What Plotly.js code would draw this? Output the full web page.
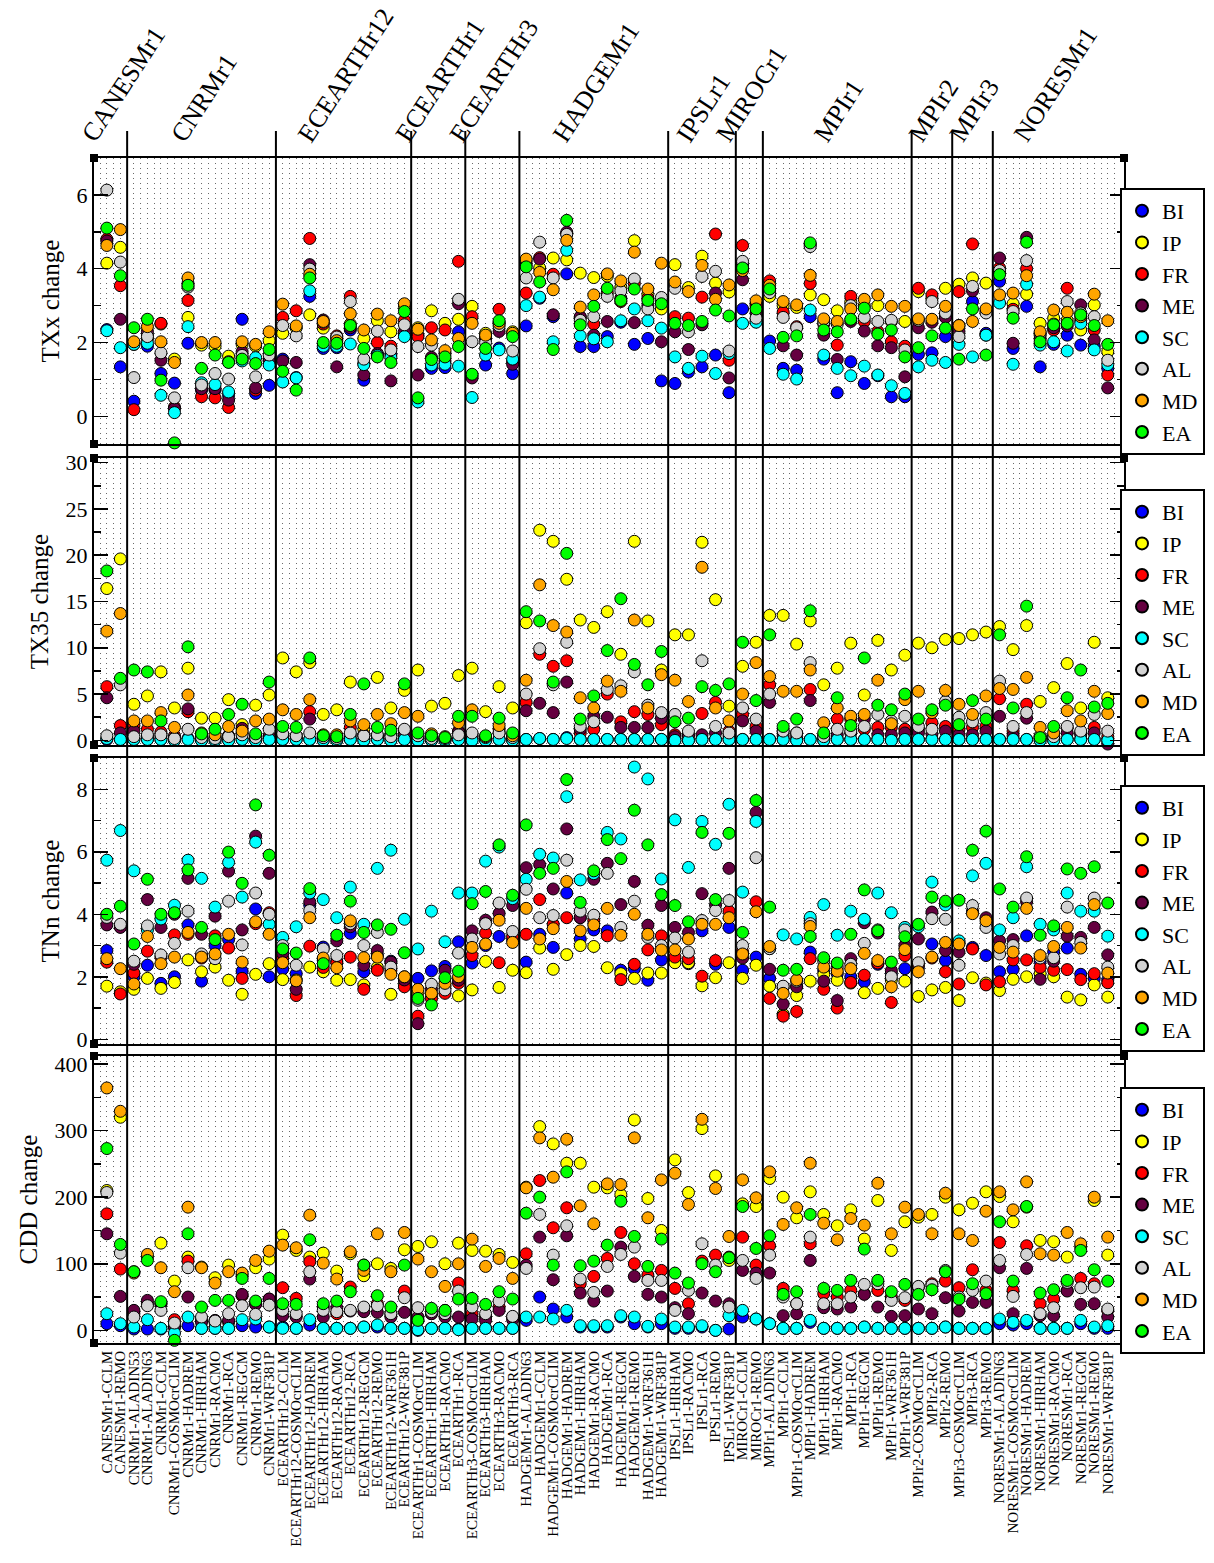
<!DOCTYPE html>
<html>
<head>
<meta charset="utf-8">
<script src="https://cdn.plot.ly/plotly-3.0.1.min.js"></script>
<style>
html,body{margin:0;padding:0;background:#fff;}
#chart{width:1214px;height:1563px;}
</style>
</head>
<body>
<div id="chart"></div>
<script>
const categories = [
"CANESMr1-CCLM","CANESMr1-REMO",
"CNRMr1-ALADIN53","CNRMr1-ALADIN63","CNRMr1-CCLM","CNRMr1-COSMOcrCLIM","CNRMr1-HADREM","CNRMr1-HIRHAM","CNRMr1-RACMO","CNRMr1-RCA","CNRMr1-REGCM","CNRMr1-REMO","CNRMr1-WRF381P",
"ECEARTHr12-CCLM","ECEARTHr12-COSMOcrCLIM","ECEARTHr12-HADREM","ECEARTHr12-HIRHAM","ECEARTHr12-RACMO","ECEARTHr12-RCA","ECEARTHr12-REGCM","ECEARTHr12-REMO","ECEARTHr12-WRF361H","ECEARTHr12-WRF381P",
"ECEARTHr1-COSMOcrCLIM","ECEARTHr1-HIRHAM","ECEARTHr1-RACMO","ECEARTHr1-RCA",
"ECEARTHr3-COSMOcrCLIM","ECEARTHr3-HIRHAM","ECEARTHr3-RACMO","ECEARTHr3-RCA",
"HADGEMr1-ALADIN63","HADGEMr1-CCLM","HADGEMr1-COSMOcrCLIM","HADGEMr1-HADREM","HADGEMr1-HIRHAM","HADGEMr1-RACMO","HADGEMr1-RCA","HADGEMr1-REGCM","HADGEMr1-REMO","HADGEMr1-WRF361H","HADGEMr1-WRF381P",
"IPSLr1-HIRHAM","IPSLr1-RACMO","IPSLr1-RCA","IPSLr1-REMO","IPSLr1-WRF381P",
"MIROCr1-CCLM","MIROCr1-REMO",
"MPIr1-ALADIN63","MPIr1-CCLM","MPIr1-COSMOcrCLIM","MPIr1-HADREM","MPIr1-HIRHAM","MPIr1-RACMO","MPIr1-RCA","MPIr1-REGCM","MPIr1-REMO","MPIr1-WRF361H","MPIr1-WRF381P",
"MPIr2-COSMOcrCLIM","MPIr2-RCA","MPIr2-REMO",
"MPIr3-COSMOcrCLIM","MPIr3-RCA","MPIr3-REMO",
"NORESMr1-ALADIN63","NORESMr1-COSMOcrCLIM","NORESMr1-HADREM","NORESMr1-HIRHAM","NORESMr1-RACMO","NORESMr1-RCA","NORESMr1-REGCM","NORESMr1-REMO","NORESMr1-WRF381P"
];
const regions = ["BI","IP","FR","ME","SC","AL","MD","EA"];
const regionColors = ["#0000ff","#ffff00","#ff0000","#650040","#00ffff","#d3d3d3","#ffa500","#00ff00"];

// rows = categories, columns = regions (BI, IP, FR, ME, SC, AL, MD, EA)
const txx = [
[2.35,4.15,4.80,4.75,2.32,6.13,4.63,5.10],
[1.34,4.58,3.54,2.63,1.86,4.18,5.06,3.81],
[0.41,1.95,0.18,2.00,1.95,1.05,2.02,2.40],
[1.90,2.10,2.20,2.30,1.98,2.16,2.43,2.63],
[1.16,2.50,2.52,1.52,0.57,1.72,2.02,0.98],
[0.90,1.55,0.25,0.21,0.10,0.50,1.46,-0.72],
[1.98,2.68,3.14,3.60,2.43,3.50,3.75,3.55],
[0.71,1.93,0.53,0.75,0.91,0.85,2.00,1.30],
[0.71,1.90,0.50,0.75,0.86,1.16,2.00,1.66],
[0.57,1.63,0.24,0.44,0.66,1.01,1.48,1.46],
[2.63,1.95,1.60,1.75,1.50,1.65,2.02,1.55],
[0.62,1.90,0.71,0.77,1.59,1.07,1.95,1.43],
[0.84,2.05,1.52,1.50,1.39,1.66,2.29,1.81],
[1.55,2.25,2.68,1.50,0.93,2.46,3.04,1.22],
[1.05,2.40,2.86,1.46,1.04,2.18,2.45,0.71],
[3.25,2.75,4.82,4.11,3.40,3.99,3.85,3.75],
[1.84,2.39,2.50,2.61,1.90,2.55,2.57,2.00],
[1.86,2.10,2.18,1.34,1.90,2.15,2.05,1.98],
[2.34,2.50,3.25,2.40,1.96,3.11,2.78,2.46],
[0.98,2.11,1.43,1.12,1.40,1.55,2.34,1.84],
[1.68,2.59,2.00,1.70,1.65,2.31,2.77,1.61],
[1.68,2.29,1.90,0.96,1.60,1.80,2.59,1.46],
[2.20,2.95,2.60,2.30,2.16,2.48,3.05,2.84],
[2.20,2.40,2.16,1.12,0.39,1.89,2.36,0.50],
[1.30,2.86,2.40,1.60,1.39,1.93,2.07,1.54],
[1.32,2.52,2.34,1.50,1.41,1.70,1.78,1.61],
[2.29,2.63,4.20,3.05,1.36,3.17,2.11,1.89],
[1.10,2.98,2.70,1.04,0.51,2.02,2.52,1.14],
[1.39,2.25,2.10,2.15,1.66,2.00,2.20,1.84],
[1.85,2.55,2.90,2.30,1.80,2.45,2.52,2.59],
[1.16,2.29,1.48,1.41,1.55,1.77,2.25,2.16],
[2.45,4.20,3.34,4.10,3.00,3.75,4.26,4.05],
[3.20,4.02,4.30,4.26,3.23,4.72,3.90,3.64],
[2.70,4.29,3.85,2.75,2.02,3.75,3.43,1.81],
[3.86,4.24,4.95,4.99,4.50,4.93,4.77,5.31],
[1.89,3.88,2.68,2.70,2.18,2.60,2.96,2.48],
[1.89,3.76,2.50,2.20,2.10,2.70,3.29,2.98],
[2.16,3.80,3.35,2.57,2.02,3.25,3.86,3.47],
[2.55,3.50,3.11,3.20,2.59,3.40,3.67,3.14],
[1.95,4.76,3.60,2.54,2.91,3.72,4.45,3.45],
[2.11,3.30,3.20,3.00,2.59,2.91,3.45,3.14],
[0.96,2.91,3.10,2.02,2.39,3.22,4.15,3.05],
[0.89,4.11,2.70,2.29,1.61,3.47,3.64,2.52],
[1.20,3.49,2.66,1.81,1.30,2.29,3.38,2.46],
[1.34,4.34,3.23,2.48,1.63,3.79,4.09,2.57],
[1.66,3.61,4.94,3.34,1.16,3.93,3.17,2.88],
[0.64,3.37,1.52,1.04,1.70,1.77,3.56,2.72],
[2.91,4.10,4.63,3.70,2.52,4.20,3.95,4.02],
[2.57,3.05,3.00,2.80,2.55,2.66,3.13,2.91],
[2.04,3.25,3.67,3.40,1.84,3.35,3.55,3.45],
[1.30,3.00,2.82,1.91,1.14,2.68,3.11,2.14],
[1.25,2.95,2.43,1.66,1.01,2.40,3.02,2.18],
[2.70,3.29,3.60,4.65,2.88,4.60,3.82,4.70],
[1.55,3.16,2.50,2.20,1.66,2.55,2.64,2.34],
[0.64,2.86,1.93,1.54,1.30,2.50,2.57,2.29],
[1.48,3.10,3.25,2.57,1.10,3.00,2.91,2.63],
[0.89,3.00,2.57,2.31,1.36,2.68,3.17,2.93],
[1.10,3.00,2.30,1.91,1.12,2.57,3.29,2.23],
[0.53,2.57,2.02,1.86,0.83,2.60,2.98,2.34],
[0.53,2.57,1.90,1.07,0.62,1.80,2.98,1.61],
[1.68,3.38,3.47,2.40,1.34,2.60,2.64,1.86],
[1.72,3.20,3.29,2.55,1.52,3.11,2.63,2.18],
[2.16,3.47,2.70,2.68,1.46,2.80,2.98,2.39],
[2.46,3.58,3.38,2.30,1.95,2.16,2.46,1.55],
[3.11,3.75,4.67,3.40,1.61,3.52,2.57,2.91],
[2.25,3.61,2.85,2.20,2.20,2.80,2.91,1.66],
[3.66,3.90,4.02,4.29,3.07,3.95,3.29,3.84],
[1.84,3.05,2.90,1.98,1.41,2.84,3.34,2.66],
[2.98,3.31,4.00,4.85,3.58,4.22,3.81,4.72],
[1.34,2.52,2.20,2.10,1.93,2.25,2.29,2.02],
[1.95,2.66,2.34,2.40,2.02,2.50,2.88,2.48],
[2.20,2.60,3.47,2.45,1.77,3.11,2.82,2.52],
[1.93,2.34,2.60,3.02,2.52,2.80,2.70,2.75],
[1.90,3.02,2.34,2.07,1.80,2.70,3.31,2.46],
[1.30,1.75,1.12,0.77,1.40,1.52,2.59,1.95]
];

const tx35 = [
[0.1,16.4,5.8,4.6,0.2,0.5,11.8,18.3],
[0.1,19.6,1.6,0.8,0.1,6.0,13.7,6.7],
[0.1,3.9,1.6,1.0,0.1,0.4,2.1,7.6],
[0.1,4.8,1.2,0.5,0.1,0.6,2.1,7.4],
[0.1,7.4,0.9,0.5,0.1,0.6,3.0,2.1],
[0.0,3.5,0.5,0.3,0.0,0.2,1.4,-0.6],
[0.2,7.8,3.1,3.4,0.1,1.2,4.9,10.1],
[0.0,2.4,0.4,0.3,0.0,0.3,0.8,0.7],
[0.0,2.4,0.3,0.3,0.0,0.2,0.6,1.2],
[0.0,4.4,0.5,0.5,0.0,0.4,1.5,2.8],
[0.1,1.7,0.8,1.3,0.1,0.6,1.0,3.9],
[0.0,3.8,0.4,0.3,0.0,0.3,2.1,0.7],
[0.1,4.9,0.5,0.4,0.1,1.2,2.3,6.3],
[0.1,8.9,0.6,0.5,0.1,0.7,3.3,1.5],
[0.1,7.4,0.5,0.4,0.1,0.5,2.8,1.4],
[0.1,8.4,3.1,2.3,0.1,0.8,4.4,8.9],
[0.0,2.8,0.4,0.3,0.0,0.3,0.6,0.5],
[0.0,3.3,0.3,0.2,0.0,0.2,0.6,0.4],
[0.1,6.3,1.4,0.5,0.1,0.8,2.1,2.8],
[0.0,1.2,0.6,0.5,0.0,0.5,1.7,6.1],
[0.1,6.8,0.5,0.4,0.1,0.6,2.8,1.4],
[0.0,3.5,0.6,0.5,0.0,0.4,1.8,1.1],
[0.1,5.4,1.0,0.6,0.1,1.2,3.0,6.1],
[0.0,7.6,0.4,0.3,0.0,0.5,2.6,0.8],
[0.0,3.7,0.2,0.2,0.0,0.2,0.7,0.5],
[0.0,4.0,0.2,0.2,0.0,0.2,0.4,0.3],
[0.1,7.0,1.0,0.9,0.1,0.6,1.9,2.6],
[0.0,7.8,0.5,0.4,0.0,0.8,3.3,2.6],
[0.0,3.1,0.3,0.2,0.0,0.3,0.4,0.5],
[0.1,5.8,1.2,0.8,0.1,0.8,1.6,2.4],
[0.0,3.5,0.3,0.3,0.0,0.3,0.5,0.8],
[0.1,12.7,4.1,3.2,0.1,5.0,6.5,13.9],
[0.2,22.7,9.3,4.0,0.2,9.9,16.8,12.9],
[0.1,21.5,8.0,3.0,0.1,6.0,12.4,6.3],
[0.3,17.4,8.6,6.3,0.2,10.6,11.7,20.2],
[0.1,13.0,0.8,1.2,0.1,1.5,4.6,2.3],
[0.1,12.2,1.2,2.6,0.1,2.0,3.5,4.8],
[0.1,13.9,5.0,2.5,0.1,5.5,6.4,9.7],
[0.1,9.3,2.0,1.4,0.1,5.9,5.3,15.3],
[0.1,21.5,3.1,1.4,0.1,7.4,13.0,8.2],
[0.1,12.9,2.8,1.4,0.1,3.8,3.5,6.0],
[0.1,7.6,1.7,2.4,0.1,3.0,7.1,9.6],
[0.0,11.4,0.6,0.4,0.0,2.8,6.5,2.0],
[0.0,11.4,0.6,0.5,0.0,1.0,4.2,2.4],
[0.1,21.4,2.9,0.6,0.1,8.6,18.7,5.8],
[0.1,15.2,4.1,0.8,0.1,1.5,3.5,5.4],
[0.1,3.7,1.0,0.5,0.1,0.8,2.1,6.1],
[0.1,8.0,2.8,2.1,0.1,3.5,5.0,10.6],
[0.1,10.6,1.5,1.0,0.1,2.3,8.4,4.3],
[0.1,13.5,6.0,4.1,0.1,5.0,6.9,11.4],
[0.1,13.5,1.0,0.5,0.1,1.0,5.3,1.5],
[0.0,10.4,0.8,0.4,0.0,0.8,5.3,2.3],
[0.1,12.9,5.5,4.3,0.1,8.4,7.6,14.0],
[0.0,6.0,0.5,0.3,0.0,0.4,1.9,0.8],
[0.1,7.8,2.3,0.6,0.1,1.2,3.5,4.6],
[0.1,10.5,2.3,0.8,0.1,1.0,2.6,1.6],
[0.1,4.9,1.2,2.3,0.1,1.5,2.8,8.9],
[0.1,10.8,1.4,0.6,0.1,2.8,6.5,3.8],
[0.0,7.6,1.4,0.6,0.0,2.1,1.8,3.3],
[0.1,9.2,1.2,0.8,0.1,2.6,4.4,5.0],
[0.1,10.5,1.2,0.8,0.1,1.5,5.3,2.3],
[0.1,10.0,1.9,0.7,0.1,1.2,3.0,3.3],
[0.1,10.9,1.5,1.0,0.1,4.2,5.4,3.8],
[0.1,11.0,1.2,0.6,0.1,2.5,3.9,1.7],
[0.1,11.4,1.4,0.6,0.1,2.0,2.8,4.3],
[0.1,11.7,1.5,1.0,0.1,3.0,4.8,2.3],
[0.1,12.3,4.5,2.6,0.1,6.4,5.6,11.4],
[0.1,9.8,1.0,0.5,0.1,1.5,5.5,3.5],
[0.1,12.4,3.9,2.4,0.1,3.0,6.8,14.5],
[0.0,4.2,0.4,0.3,0.0,0.5,1.4,0.3],
[0.0,5.7,0.4,0.3,0.0,0.4,0.8,1.5],
[0.1,8.3,1.4,0.8,0.1,1.5,3.2,4.6],
[0.1,3.5,0.8,0.6,0.1,1.0,2.1,7.6],
[0.1,10.6,1.4,0.8,0.1,2.8,5.3,3.6],
[0.0,4.6,0.4,-0.4,0.0,1.0,2.9,4.0]
];

const tnn = [
[2.84,1.70,2.47,3.66,5.73,3.90,2.58,4.00],
[3.60,1.52,1.45,3.58,6.68,3.68,2.26,4.26],
[2.00,1.60,2.12,2.40,5.39,2.50,1.77,3.05],
[2.37,1.95,2.82,4.47,3.50,3.63,3.29,5.12],
[1.79,1.63,2.63,3.58,3.85,2.70,2.42,4.00],
[2.00,1.82,3.34,4.00,4.29,3.07,2.63,4.05],
[3.66,2.54,3.36,5.15,5.73,4.10,3.42,5.42],
[1.86,2.16,2.60,3.36,5.15,2.73,2.63,3.58],
[3.00,2.31,3.31,3.94,4.23,2.58,2.73,3.19],
[3.19,1.89,2.92,5.38,5.66,4.42,3.36,5.99],
[2.18,1.44,1.95,3.50,4.55,3.02,2.47,4.99],
[4.17,2.08,3.70,6.50,6.31,4.68,3.76,7.50],
[2.00,2.42,4.05,5.31,3.68,4.00,3.36,5.89],
[2.25,1.91,2.60,2.75,3.26,3.00,2.45,2.89],
[2.10,1.90,1.40,1.60,3.60,2.37,1.87,2.76],
[4.29,2.31,2.98,4.40,4.68,4.12,3.89,4.82],
[2.95,2.16,2.30,2.52,4.47,2.89,2.60,2.42],
[2.50,1.89,2.45,3.15,3.89,2.68,2.29,3.33],
[3.39,1.91,2.63,3.60,4.87,3.70,3.79,4.42],
[2.16,1.74,1.60,2.37,3.68,3.00,2.61,3.42],
[2.70,2.30,2.21,2.84,5.47,3.42,2.63,3.66],
[2.50,1.44,2.20,2.47,6.05,2.31,2.08,3.52],
[1.90,1.75,1.68,1.90,3.84,2.00,2.00,2.77],
[1.95,1.50,0.74,0.50,2.89,1.25,1.60,1.31],
[2.19,1.40,1.30,1.60,4.10,1.76,1.47,1.10],
[2.33,1.70,1.47,2.21,3.12,1.58,1.79,1.97],
[3.12,1.39,1.80,1.89,4.68,2.76,2.00,2.18],
[2.44,1.58,2.68,3.47,4.68,3.21,2.94,4.34],
[3.00,2.49,3.40,3.81,5.70,3.70,3.05,4.73],
[3.29,1.66,2.45,4.03,6.15,4.36,3.81,6.22],
[3.20,2.21,3.30,4.28,4.50,3.45,3.10,4.61],
[2.47,2.13,3.36,5.49,5.12,4.80,4.19,6.86],
[3.36,2.92,4.47,5.59,5.92,3.89,3.21,5.31],
[2.94,2.24,3.68,4.81,5.80,3.96,3.54,5.47],
[4.68,2.71,3.89,6.73,7.76,5.73,5.05,8.31],
[3.21,3.00,3.90,3.89,5.10,4.10,3.47,4.38],
[3.50,2.97,3.80,5.12,5.30,3.97,3.66,5.39],
[3.47,2.29,3.31,5.63,6.62,5.31,4.19,6.39],
[2.21,2.10,1.91,4.31,6.41,3.58,3.33,5.78],
[2.26,1.95,2.40,5.05,8.71,4.42,4.00,7.33],
[1.89,2.12,2.86,3.65,8.33,3.26,3.36,6.22],
[2.54,2.12,3.31,4.28,5.13,3.00,2.86,4.63],
[2.50,2.45,2.63,3.58,7.02,3.24,2.86,4.28],
[2.42,2.45,2.58,3.42,5.50,2.79,3.21,3.76],
[3.47,1.71,2.02,4.66,6.97,3.80,3.68,6.62],
[2.40,1.97,2.52,4.30,6.24,4.12,3.68,4.47],
[3.58,2.45,4.10,5.47,7.52,4.44,3.89,6.59],
[2.21,1.95,2.80,2.60,4.71,3.00,2.73,3.42],
[2.63,2.37,4.40,7.26,6.97,5.81,4.08,7.64],
[1.95,1.70,1.31,2.24,2.90,2.90,2.97,4.23],
[1.68,0.80,0.74,1.13,3.34,1.70,1.47,2.21],
[1.70,1.40,0.89,1.68,3.21,1.86,1.90,2.24],
[2.79,1.86,2.58,3.79,3.90,3.70,3.61,3.29],
[2.20,2.08,1.60,1.86,4.31,2.50,2.31,2.61],
[2.10,1.89,1.00,1.24,3.33,2.30,2.18,2.44],
[2.00,1.80,1.82,2.58,4.10,2.40,2.26,3.36],
[1.84,1.49,2.05,3.73,3.84,3.07,2.75,4.78],
[2.40,1.63,2.44,3.40,4.68,3.50,2.52,3.47],
[2.10,1.90,1.18,2.20,4.05,2.00,1.68,2.47],
[2.26,1.86,2.68,3.00,3.58,3.50,2.87,3.28],
[2.30,1.37,2.40,3.21,3.60,2.45,2.16,3.68],
[3.05,1.58,2.60,4.07,5.03,3.86,2.63,4.55],
[2.52,1.66,2.16,2.84,4.30,3.84,3.10,4.42],
[3.10,1.24,1.77,2.79,3.15,2.37,3.05,4.45],
[2.94,1.97,2.89,4.10,5.23,4.28,4.02,6.05],
[2.68,1.80,1.74,3.89,5.63,3.58,3.79,6.66],
[2.16,1.56,1.84,3.15,3.50,2.73,2.94,4.81],
[2.24,1.92,2.54,3.19,3.89,3.00,2.79,4.23],
[3.31,2.00,2.54,4.40,5.52,4.52,4.19,5.84],
[2.50,2.10,2.30,1.92,3.68,2.60,2.68,3.33],
[2.80,2.00,2.21,2.50,3.50,2.61,2.97,3.63],
[2.92,1.35,2.23,3.30,4.68,4.23,3.58,5.45],
[2.08,1.26,1.91,3.26,4.10,3.10,2.92,5.31],
[1.95,1.74,2.10,3.58,4.10,4.52,4.31,5.52],
[1.90,1.35,1.81,2.70,3.30,2.31,2.12,4.36]
];

const cdd = [
[10,210,175,145,25,207,364,273],
[7,320,92,51,10,116,329,129],
[2,88,25,30,5,20,86,88],
[2,110,40,45,16,37,114,105],
[2,131,40,40,3,30,94,43],
[5,74,16,5,-4,11,58,-15],
[7,110,104,50,20,94,185,145],
[3,95,15,12,3,20,94,35],
[3,79,12,15,3,14,71,45],
[3,98,12,15,3,25,88,45],
[7,83,52,54,16,37,86,78],
[5,94,40,39,17,24,105,44],
[5,107,47,47,5,38,119,78],
[5,143,64,22,3,30,128,40],
[3,120,48,20,3,25,124,39],
[8,110,103,77,16,88,173,136],
[3,116,35,20,3,30,101,40],
[3,89,25,34,3,28,77,44],
[3,115,65,29,3,30,118,58],
[5,82,98,28,5,35,90,98],
[5,100,40,27,8,37,145,52],
[3,93,25,20,3,25,88,35],
[3,121,59,27,3,49,147,98],
[0,126,15,20,1,34,107,15],
[3,133,25,25,3,28,88,33],
[3,100,30,20,3,25,66,30],
[2,131,71,20,1,59,100,47],
[3,120,25,17,3,35,137,48],
[3,119,20,15,3,25,96,39],
[3,114,35,30,3,44,108,58],
[3,102,20,16,3,21,78,47],
[15,215,115,98,20,93,214,176],
[50,306,225,140,20,174,289,200],
[32,280,154,76,17,113,230,98],
[20,251,184,142,30,157,287,238],
[5,251,70,56,7,77,187,97],
[5,215,81,44,7,57,160,104],
[5,214,108,59,7,96,220,128],
[20,204,147,125,22,114,219,194],
[10,316,100,81,20,125,289,141],
[5,198,83,54,6,75,169,96],
[10,150,90,50,17,75,226,137],
[3,256,63,34,5,30,236,86],
[3,207,40,25,5,60,189,71],
[5,303,104,56,7,130,317,100],
[0,232,113,44,0,98,213,88],
[2,105,110,40,22,35,141,109],
[20,190,140,90,30,105,226,186],
[17,186,98,86,17,78,199,123],
[10,228,127,86,10,113,238,142],
[3,200,63,22,3,50,159,54],
[3,169,40,25,3,40,184,58],
[12,208,130,105,15,140,251,174],
[3,174,55,34,3,40,161,63],
[3,157,50,32,3,40,136,60],
[3,181,60,35,3,50,168,75],
[5,137,55,54,5,69,158,122],
[3,195,60,35,3,70,221,75],
[3,120,50,21,3,45,145,58],
[3,163,45,22,3,49,185,69],
[3,170,65,32,3,66,174,54],
[3,174,70,25,3,68,145,61],
[5,200,74,49,5,90,206,88],
[3,181,64,29,3,50,145,47],
[3,191,91,42,3,60,135,70],
[3,208,60,42,3,74,179,55],
[10,201,132,94,17,105,208,163],
[8,163,60,25,12,51,181,74],
[10,185,127,93,15,114,223,186],
[3,135,40,22,3,25,115,56],
[3,133,47,22,3,34,113,61],
[3,110,60,59,3,72,147,75],
[10,125,78,39,15,64,130,120],
[3,195,70,40,5,65,200,91],
[3,113,30,20,7,32,140,74]
];

const panelTitles = ["TXx change","TX35 change","TNn change","CDD change"];
const panelData = [txx, tx35, tnn, cdd];

// ---------- layout geometry (pixels of a 1214x1563 page) ----------
const W = 1214, H = 1563;
const fx = v => v / W;
const fy = v => 1 - v / H;
const FONT = "'Liberation Serif', 'Times New Roman', Times, serif";
const GRID = "#6a6a6a";
const panels = [
  {top:158, bottom:444, range:[-0.75,7.0], dtick:2, minor:1, legTop:188},
  {top:458, bottom:745, range:[-0.5,30.5], dtick:5, minor:2.5, legTop:489},
  {top:758, bottom:1044, range:[-0.15,9.0], dtick:2, minor:1, legTop:785},
  {top:1056, bottom:1343, range:[-19,412], dtick:100, minor:50, legTop:1087}
];

const idx = categories.map((c, i) => i);

const traces = [];
const layout = {
  width: W, height: H,
  margin: {l:0, r:0, t:0, b:0},
  paper_bgcolor: "#fff", plot_bgcolor: "#fff",
  font: {family: FONT, color: "#000"},
  showlegend: true,
  shapes: [], annotations: []
};

panels.forEach((p, k) => {
  const sfx = k === 0 ? "" : String(k + 1);
  const legName = "legend" + sfx;
  regions.forEach((r, j) => {
    traces.push({
      type: "scatter", mode: "markers",
      x: idx, y: panelData[k].map(row => row[j]),
      name: r,
      xaxis: "x" + sfx, yaxis: "y" + sfx,
      legend: legName,
      cliponaxis: false,
      marker: {size: 12, color: regionColors[j], line: {color: "#000", width: 1}},
      hoverinfo: "x+y+name"
    });
  });
  layout["xaxis" + sfx] = {
    domain: [fx(94), fx(1124)], range: [-0.95, 75.2], anchor: "y" + sfx,
    tickmode: "array", tickvals: idx, ticktext: categories,
    showticklabels: k === 3, tickangle: -90,
    tickfont: {family: FONT, size: 15, color: "#000"},
    ticks: "", showgrid: true, gridcolor: GRID, griddash: "1px,4px", gridwidth: 1,
    minor: {tickmode: "linear", tick0: 0.5, dtick: 1, showgrid: true, gridcolor: GRID, griddash: "1px,4px", gridwidth: 1, ticks: ""},
    showline: true, mirror: true, linecolor: "#000", linewidth: 2, zeroline: false
  };
  layout["yaxis" + sfx] = {
    domain: [fy(p.bottom), fy(p.top)], range: p.range, anchor: "x" + sfx,
    tickmode: "linear", tick0: 0, dtick: p.dtick,
    ticks: "inside", ticklen: 14, tickwidth: 1.5, tickcolor: "#000",
    minor: {ticks: "inside", ticklen: 7, tickwidth: 1.5, tickcolor: "#000", tick0: 0, dtick: p.minor, showgrid: false},
    showline: true, mirror: "allticks", linecolor: "#000", linewidth: 2,
    showgrid: false, zeroline: false,
    tickfont: {family: FONT, size: 22, color: "#000"},
    title: {text: panelTitles[k], font: {family: FONT, size: 25, color: "#000"}, standoff: 10}
  };
  layout[legName] = {
    x: fx(1120), y: fy(p.legTop), xanchor: "left", yanchor: "top",
    bgcolor: "#fff", bordercolor: "#000", borderwidth: 2,
    font: {family: FONT, size: 22, color: "#000"},
    traceorder: "normal", itemsizing: "constant", tracegroupgap: 0
  };
  // corner marks of the frame
  [[94, p.top], [1124, p.top], [94, p.bottom], [1124, p.bottom]].forEach(c => {
    layout.shapes.push({
      type: "rect", xref: "paper", yref: "paper",
      x0: fx(c[0] - 4), x1: fx(c[0] + 4), y0: fy(c[1] + 4), y1: fy(c[1] - 4),
      fillcolor: "#000", line: {width: 0}, layer: "above"
    });
  });
});

// model groups derived from category names
const groups = [];
categories.forEach((c, i) => {
  const g = c.split("-")[0];
  if (!groups.length || groups[groups.length - 1].name !== g) groups.push({name: g, start: i, end: i});
  else groups[groups.length - 1].end = i;
});
groups.forEach((g, gi) => {
  if (gi > 0) {
    layout.shapes.push({
      type: "line", xref: "x", yref: "paper",
      x0: g.start - 0.5, x1: g.start - 0.5,
      y0: fy(1343), y1: fy(131),
      line: {color: "#000", width: 2}, layer: "above"
    });
  }
  layout.annotations.push({
    text: g.name, x: (g.start + g.end) / 2, xref: "x", y: fy(150), yref: "paper",
    xanchor: "center", yanchor: "bottom", textangle: -57, showarrow: false,
    xshift: gi === 0 ? 10 : 2,
    font: {family: FONT, size: 26, color: "#000"}
  });
});

Plotly.newPlot("chart", traces, layout, {displayModeBar: false, staticPlot: true});
</script>
</body>
</html>
